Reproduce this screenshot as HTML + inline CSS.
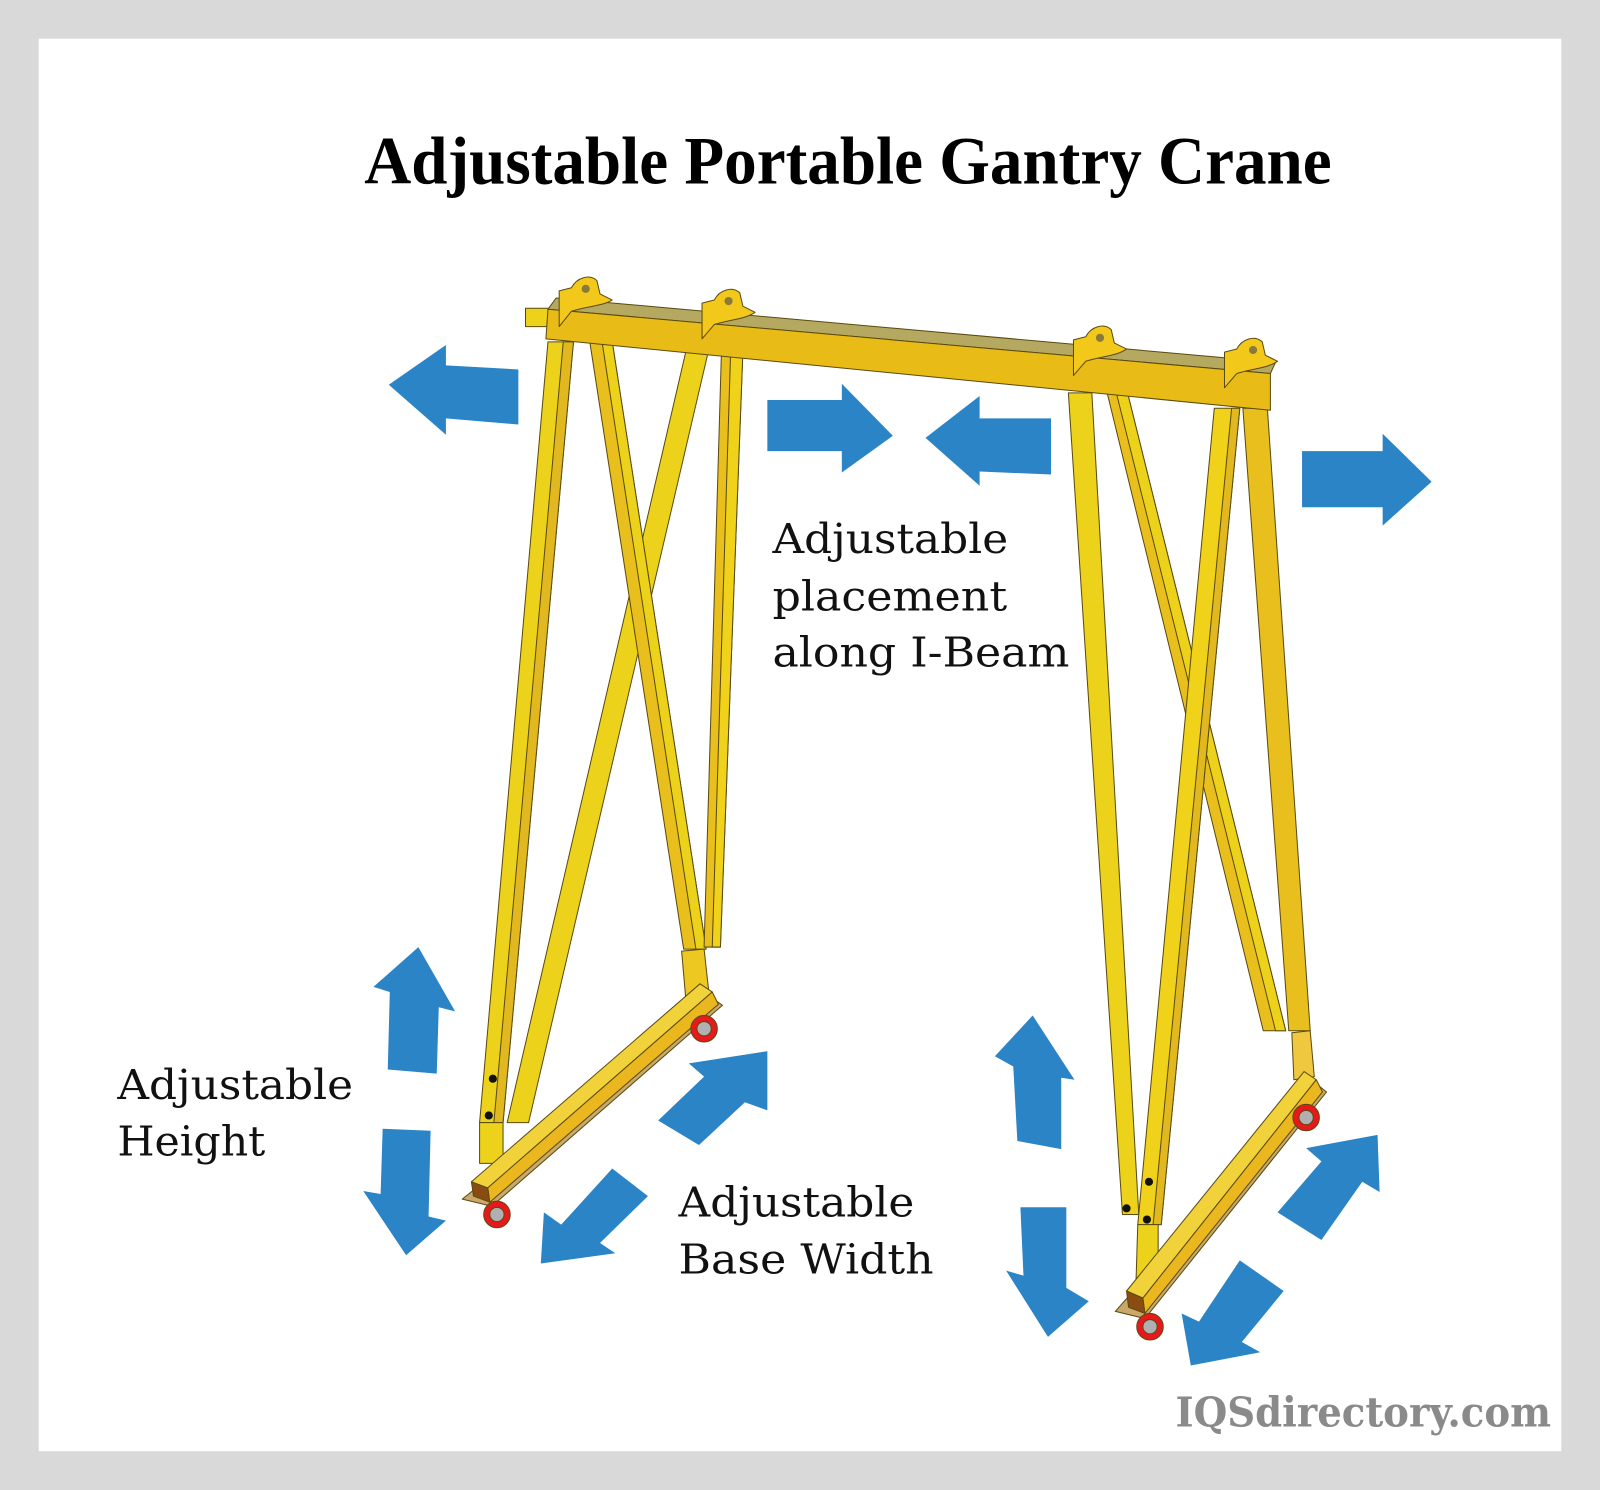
<!DOCTYPE html>
<html><head><meta charset="utf-8"><style>
html,body{margin:0;padding:0;background:#d9d9d9}
svg{display:block}
</style></head><body>
<svg width="1600" height="1490" viewBox="0 0 1568 1460" preserveAspectRatio="none" xmlns="http://www.w3.org/2000/svg">
<rect x="0" y="0" width="1568" height="1460" fill="#d9d9d9"/>
<rect x="38" y="38" width="1492" height="1384" fill="#fff"/>
<text x="831" y="180" text-anchor="middle" font-family="Liberation Serif, serif" font-weight="bold" font-size="66" textLength="948" lengthAdjust="spacingAndGlyphs" fill="#000">Adjustable Portable Gantry Crane</text>

<g stroke="#5a4a10" stroke-width="1" stroke-linejoin="round">
<!-- left legs -->
<polygon points="537,335 562,335 493,1100 470,1100" fill="#ecd21a"/>
<polygon points="552,335 562,335 493,1100 484,1100" fill="#e2b820"/>
<polygon points="470,1100 493,1100 493,1140 470,1140" fill="#ecd21a"/>
<polygon points="672,345 694,345 518,1100 497,1100" fill="#ecd21a"/>
<polygon points="578,335 600,335 692,930 670,930" fill="#e8bf1c"/>
<polygon points="590,335 600,335 692,930 682,930" fill="#ecd21a"/>
<polygon points="707,345 728,345 706,928 690,928" fill="#e8bf1c"/>
<polygon points="716,345 728,345 706,928 698,928" fill="#f0d21a"/>
<polygon points="668,932 690,930 695,975 672,978" fill="#ecc820"/>
<!-- left base -->
<polygon points="453,1175 482,1182 708,985 698,978" fill="#c9a86a"/>
<polygon points="462,1158 686,964 698,972 478,1164" fill="#f1d23a"/>
<polygon points="478,1164 698,972 704,984 480,1178" fill="#eab81e"/>
<polygon points="462,1158 478,1164 480,1178 464,1172" fill="#8a4c10"/>
<circle cx="487" cy="1190" r="13" fill="#e8191c"/><circle cx="487" cy="1190" r="7" fill="#b0b0b0"/>
<circle cx="690" cy="1008" r="13" fill="#e8191c"/><circle cx="690" cy="1008" r="7" fill="#b0b0b0"/>
<!-- right legs -->
<polygon points="1047,385 1070,385 1116,1190 1100,1190" fill="#ecd21a"/>
<polygon points="1085,385 1105,385 1260,1010 1238,1010" fill="#e8bf1c"/>
<polygon points="1094,385 1105,385 1260,1010 1250,1010" fill="#ecd21a"/>
<polygon points="1190,400 1215,400 1138,1200 1115,1200" fill="#f0d21a"/>
<polygon points="1207,400 1215,400 1138,1200 1130,1200" fill="#e2b820"/>
<polygon points="1115,1200 1135,1200 1135,1265 1113,1265" fill="#ecd21a"/>
<polygon points="1218,400 1242,400 1284,1010 1263,1010" fill="#e8bf1c"/>
<polygon points="1266,1012 1284,1010 1288,1055 1268,1058" fill="#f0c840"/>
<!-- right base -->
<polygon points="1093,1285 1122,1292 1300,1070 1290,1062" fill="#c9a86a"/>
<polygon points="1104,1265 1278,1050 1290,1058 1120,1272" fill="#f1d23a"/>
<polygon points="1120,1272 1290,1058 1296,1070 1122,1287" fill="#eab81e"/>
<polygon points="1104,1265 1120,1272 1122,1287 1106,1281" fill="#8a4c10"/>
<circle cx="1127" cy="1300" r="13" fill="#e8191c"/><circle cx="1127" cy="1300" r="7" fill="#b0b0b0"/>
<circle cx="1280" cy="1095" r="13" fill="#e8191c"/><circle cx="1280" cy="1095" r="7" fill="#b0b0b0"/>
<!-- beam -->
<polygon points="515,302 540,302 540,320 515,320" fill="#ecd21a"/>
<polygon points="545,292 1250,355 1245,366 537,303" fill="#b5a860"/>
<polygon points="537,303 1245,366 1245,402 535,332" fill="#e9bb16"/>
<!-- clamps -->
<g fill="#f2c81a">
<path d="M548,300 L548,320 L560,305 C575,300 590,300 600,294 L588,288 L585,275 C578,268 565,272 560,282 L548,285 Z"/>
<path d="M688,312 L688,332 L700,318 C715,313 730,313 740,306 L728,300 L725,287 C718,280 705,284 700,294 L688,297 Z"/>
<path d="M1052,348 L1052,368 L1064,354 C1079,349 1094,349 1104,342 L1092,336 L1089,323 C1082,316 1069,320 1064,330 L1052,333 Z"/>
<path d="M1200,360 L1200,380 L1212,366 C1227,361 1242,361 1252,354 L1240,348 L1237,335 C1230,328 1217,332 1212,342 L1200,345 Z"/>
</g>
</g>
<g fill="#8a7a3a"><circle cx="574" cy="283" r="4"/><circle cx="714" cy="295" r="4"/><circle cx="1078" cy="331" r="4"/><circle cx="1228" cy="343" r="4"/></g>
<g fill="#111"><circle cx="483" cy="1057" r="4"/><circle cx="479" cy="1093" r="4"/><circle cx="1126" cy="1158" r="4"/><circle cx="1104" cy="1184" r="4"/><circle cx="1124" cy="1195" r="4"/></g>

<!-- arrows -->
<g fill="#2a84c6">
<polygon points="381,377 437,338 437,358 508,362 508,416 437,410 437,426"/>
<polygon points="752,392 825,392 825,376 875,427 825,463 825,442 752,442"/>
<polygon points="907,429 960,388 960,410 1030,410 1030,465 960,462 960,476"/>
<polygon points="1276,442 1355,442 1355,425 1403,472 1355,515 1355,497 1276,497"/>
<polygon points="410,928 446,991 430,987 428,1052 380,1048 382,972 366,967"/>
<polygon points="375,1106 422,1108 420,1192 437,1196 398,1230 356,1167 373,1170"/>
<polygon points="752,1030 752,1088 730,1080 685,1122 645,1098 690,1055 675,1042"/>
<polygon points="530,1238 533,1188 550,1200 600,1145 635,1172 588,1218 603,1228"/>
<polygon points="1012,995 1053,1058 1040,1056 1040,1126 997,1118 993,1045 975,1035"/>
<polygon points="1000,1183 1045,1183 1045,1262 1067,1275 1027,1310 986,1245 1003,1250"/>
<polygon points="1350,1112 1352,1168 1335,1158 1295,1215 1252,1188 1295,1138 1280,1125"/>
<polygon points="1167,1338 1158,1287 1175,1295 1215,1235 1258,1265 1217,1315 1235,1325"/>
</g>

<g font-family="DejaVu Serif, Liberation Serif, serif" font-size="40" fill="#111">
<text x="757" y="542" textLength="231" lengthAdjust="spacingAndGlyphs">Adjustable</text>
<text x="757" y="598" textLength="230" lengthAdjust="spacingAndGlyphs">placement</text>
<text x="757" y="653" textLength="291" lengthAdjust="spacingAndGlyphs">along I-Beam</text>
<text x="115" y="1077" textLength="231" lengthAdjust="spacingAndGlyphs">Adjustable</text>
<text x="115" y="1132" textLength="145" lengthAdjust="spacingAndGlyphs">Height</text>
<text x="665" y="1192" textLength="231" lengthAdjust="spacingAndGlyphs">Adjustable</text>
<text x="665" y="1248" textLength="250" lengthAdjust="spacingAndGlyphs">Base Width</text>
</g>
<text x="1152" y="1398" font-family="DejaVu Serif, Liberation Serif, serif" font-weight="bold" font-size="40" fill="#8a8a8a" textLength="368" lengthAdjust="spacingAndGlyphs">IQSdirectory.com</text>
</svg>
</body></html>
